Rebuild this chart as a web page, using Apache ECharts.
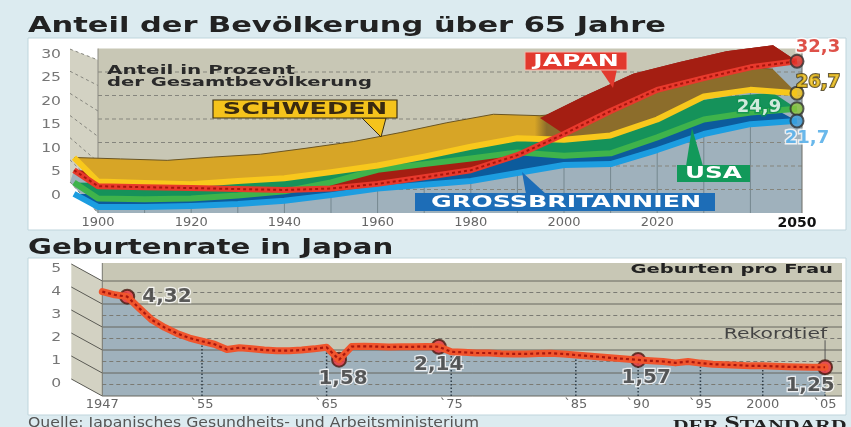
<!DOCTYPE html>
<html><head><meta charset="utf-8">
<script src="https://cdn.jsdelivr.net/npm/echarts@6/dist/echarts.min.js"></script>
<style>html,body{margin:0;padding:0;background:#dcebf0}#c{width:851px;height:427px}</style>
</head><body><div id="c"></div>
<script>
// ---------- data: top chart (share of population 65+, %) ----------
const years  = [1900,1910,1920,1930,1940,1950,1960,1970,1980,1990,2000,2010,2020,2030,2040,2050];
const japan  = [5.7,5.5,5.3,5.1,4.9,5.2,6.2,7.6,9.1,12.3,16.8,21.7,26.2,28.7,31.0,32.3];
const sweden = [6.7,6.4,6.1,6.8,7.4,8.7,10.1,12.0,14.1,15.9,15.6,16.5,19.9,24.8,26.2,25.5];
const usa    = [3.1,2.9,3.1,3.7,4.6,6.5,9.2,10.4,11.6,12.9,12.2,12.7,16.1,19.9,21.4,22.2];
const gb     = [1.3,1.3,1.5,1.9,2.6,3.8,5.2,6.0,6.8,8.5,10.2,10.4,13.4,16.8,18.9,19.6];
const endLabels = ['32,3','26,7','24,9','21,7'];
const xLabelsTop = [1900,1920,1940,1960,1980,2000,2020,2050];
const yTicksTop = [0,5,10,15,20,25,30];

// ---------- data: bottom chart (births per woman, Japan) ----------
const birthYears = [1947,1948,1949,1950,1951,1952,1953,1954,1955,1956,1957,1958,1959,1960,1961,1962,1963,1964,1965,1966,1967,1968,1969,1970,1971,1972,1973,1974,1975,1976,1977,1978,1979,1980,1981,1982,1983,1984,1985,1986,1987,1988,1989,1990,1991,1992,1993,1994,1995,1996,1997,1998,1999,2000,2001,2002,2003,2004,2005];
const birthRate  = [4.54,4.40,4.32,3.80,3.30,2.98,2.72,2.52,2.38,2.25,2.02,2.10,2.05,2.00,1.97,1.97,2.00,2.05,2.12,1.58,2.15,2.16,2.15,2.13,2.14,2.14,2.15,2.14,1.92,1.90,1.87,1.87,1.84,1.83,1.83,1.85,1.86,1.83,1.78,1.74,1.70,1.65,1.61,1.57,1.53,1.50,1.44,1.50,1.43,1.38,1.36,1.34,1.31,1.31,1.29,1.27,1.26,1.25,1.25];
const birthHighlights = [1949,1966,1974,1990,2005];
const birthTickYears = [1947,1955,1965,1975,1985,1990,1995,2000,2005];
const birthTickText  = ['1947','`55','`65','`75','`85','`90','`95','2000','`05'];
const yTicksBottom = [0,1,2,3,4,5];

// ---------- style ----------
const DEPTH = {japan:[-24,-16], sweden:[-24,-24], usa:[-24,-16], gb:[-24,-13]};
const FONT = '"DejaVu Sans"';

function ribbon(vals, d, fill, stripColor, outline, fromIdx){
  return function(params, api){
    const P=[], B=[];
    for(let i=fromIdx;i<years.length;i++){
      const p=api.coord([years[i], vals[i]]);
      P.push(p); B.push([p[0]+d[0], p[1]+d[1]]);
    }
    const f = typeof fill==='function' ? fill(api) : fill;
    const ch=[{type:'polygon',shape:{points:P.concat(B.slice().reverse())},style:{fill:f}}];
    if(outline) ch.push({type:'polyline',shape:{points:B},style:{stroke:outline,lineWidth:1,fill:'none'}});
    if(stripColor) ch.push({type:'polyline',shape:{points:[B[0]].concat(P)},style:{stroke:stripColor,lineWidth:6,fill:'none',lineJoin:'round'}});
    return {type:'group',children:ch};
  };
}

let cross = 0;
for(let i=0;i<years.length;i++){ if(japan[i]>sweden[i]){cross=i;break;} }

function swedenFill(api){
  const xa=api.coord([years[cross-1],0])[0], xb=api.coord([years[cross],0])[0];
  const m=(xa+xb)/2;
  return new echarts.graphic.LinearGradient(m-6,0,m+6,0,[{offset:0,color:'#d7a526'},{offset:1,color:'#8c6d2b'}],true);
}

function japanStrip(params, api){
  const d=DEPTH.japan;
  const P=years.map((y,i)=>api.coord([y,japan[i]]));
  const pts=[[P[0][0]+d[0],P[0][1]+d[1]]].concat(P);
  return {type:'group',children:[
    {type:'polyline',shape:{points:pts},style:{stroke:'#e8392c',lineWidth:6,fill:'none',lineJoin:'round'}},
    {type:'polyline',shape:{points:pts},style:{stroke:'#a8150d',lineWidth:2,fill:'none',lineDash:[3,3]}}
  ]};
}

function wallTop(params, api){
  const cs=params.coordSys;
  const x0=cs.x, x1=cs.x+cs.width, yT=cs.y, yB=cs.y+cs.height;
  const ch=[];
  ch.push({type:'polygon',shape:{points:[[x0-28,yT+0.5],[x0,yT+11.5],[x0,yB],[x0-28,yB-31]]},style:{fill:'#d3d2c3'}});
  ch.push({type:'rect',shape:{x:x0,y:yT,width:x1-x0+5,height:yB-yT},style:{fill:'#c8c7b5'}});
  const d=DEPTH.japan;
  const P=years.map((y,i)=>api.coord([y,japan[i]]));
  const B=P.map(p=>[p[0]+d[0],p[1]+d[1]]);
  const last=P[P.length-1];
  ch.push({type:'polygon',shape:{points:B.concat([last,[x1+5,last[1]],[x1+5,yB],[x0,yB],[x0-28,yB-31]])},style:{fill:'#9fb1bc'}});
  for(let i=1;i<years.length-1;i++){
    ch.push({type:'line',shape:{x1:P[i][0],y1:yB,x2:P[i][0],y2:P[i][1]+d[1]},style:{stroke:'#75878f',lineWidth:1}});
  }
  yTicksTop.forEach(v=>{
    const gy=api.coord([years[0],v])[1];
    if(v>0) ch.push({type:'line',shape:{x1:x0,y1:gy,x2:x1+5,y2:gy},style:{stroke:'#85857d',lineWidth:1,lineDash:[4,3]}});
    ch.push({type:'line',shape:{x1:x0-28,y1:gy-31+0.27*v,x2:x0,y2:gy-0.4*v},style:{stroke:'#85857d',lineWidth:1,lineDash:[3,3]}});
    // axis tick label on the front edge of the side wall
    ch.push({type:'text',x:x0-37,y:gy-17.5,scaleX:1.2,style:{text:String(v),font:'13px '+FONT,fill:'#767676',align:'right',verticalAlign:'middle'}});
  });
  ch.push({type:'line',shape:{x1:x0,y1:yT,x2:x0,y2:yB},style:{stroke:'#8a8a82',lineWidth:1}});
  ch.push({type:'line',shape:{x1:x1+5,y1:yT,x2:x1+5,y2:yB},style:{stroke:'#6c6c66',lineWidth:1}});
  return {type:'group',children:ch};
}

function wallBottom(params, api){
  const cs=params.coordSys;
  const x0=cs.x, x1=cs.x+cs.width, yT=cs.y, yB=cs.y+cs.height;
  const ch=[];
  ch.push({type:'polygon',shape:{points:[[x0-31,yT-17],[x0,yT],[x0,yB],[x0-31,yB-17]]},style:{fill:'#d3d2c3'}});
  ch.push({type:'rect',shape:{x:x0,y:yT-18,width:x1-x0,height:yB-yT+18},style:{fill:'#c8c7b5'}});
  const P=birthYears.map((y,i)=>api.coord([y,birthRate[i]]));
  const last=P[P.length-1];
  ch.push({type:'polygon',shape:{points:P.concat([[last[0],yB],[P[0][0],yB]])},style:{fill:'#9fb1bc'}});
  for(let k=0;k<yTicksBottom.length-1;k++){
    const gy=api.coord([birthYears[0],yTicksBottom[k]+0.5])[1];
    ch.push({type:'line',shape:{x1:x0,y1:gy,x2:x1,y2:gy},style:{stroke:'#7a7a73',lineWidth:1,lineDash:[4,3]}});
  }
  yTicksBottom.forEach(v=>{
    const gy=api.coord([birthYears[0],v])[1];
    ch.push({type:'line',shape:{x1:x0,y1:gy,x2:x1,y2:gy},style:{stroke:'#66665f',lineWidth:1}});
    ch.push({type:'line',shape:{x1:x0-31,y1:gy-17,x2:x0,y2:gy},style:{stroke:'#5a5a54',lineWidth:1}});
    ch.push({type:'text',x:x0-41,y:gy-12,scaleX:1.2,style:{text:String(v),font:'13px '+FONT,fill:'#767676',align:'right',verticalAlign:'middle'}});
  });
  birthTickYears.slice(1).forEach(y=>{
    const idx=birthYears.indexOf(y);
    const p=api.coord([y,birthRate[idx]]);
    ch.push({type:'line',shape:{x1:p[0],y1:yB,x2:p[0],y2:p[1]+3},style:{stroke:'#2f3d47',lineWidth:1.5,lineDash:[1.5,2]}});
  });
  ch.push({type:'line',shape:{x1:x0,y1:yT-18,x2:x0,y2:yB},style:{stroke:'#77776f',lineWidth:1}});
  // Rekordtief annotation anchored on the last point
  ch.push({type:'line',shape:{x1:last[0],y1:last[1]-7,x2:last[0],y2:last[1]-27},style:{stroke:'#555',lineWidth:1}});
  ch.push({type:'text',x:last[0]+2,y:last[1]-33,scaleX:1.45,style:{text:'Rekordtief',font:'14px '+FONT,fill:'#444',align:'right',verticalAlign:'middle'}});
  return {type:'group',children:ch};
}

const endColors = [
  {fill:'#e3332a', text:'#d6261c', border:'#ffffff', bw:3, off:[21,-14]},
  {fill:'#f4c41a', text:'#f1c21a', border:'#3d2f0a', bw:2, off:[21,-11]},
  {fill:'#8cc63e', text:'#ffffff', border:'#0e9150', bw:3, off:[-38,-1]},
  {fill:'#3f9fdc', text:'#45a6e6', border:'#ffffff', bw:3, off:[10,17]}
];
const endSeries=[japan,sweden,usa,gb];
const endData = endSeries.map((arr,k)=>({
  value:[years[years.length-1], arr[arr.length-1]],
  itemStyle:{color:endColors[k].fill, borderColor:'#333', borderWidth:2},
  label:{show:true, position:'inside', offset:endColors[k].off, formatter:()=>endLabels[k],
    color:endColors[k].text, textBorderColor:endColors[k].border, textBorderWidth:endColors[k].bw,
    fontFamily:FONT, fontWeight:'bold', fontSize:18}
}));

const hlPos = {1949:{position:'right',distance:7,offset:[0,0]},1966:{position:'bottom',distance:1,offset:[4,0]},
  1974:{position:'bottom',distance:0,offset:[0,0]},1990:{position:'bottom',distance:0,offset:[8,0]},2005:{position:'bottom',distance:1,offset:[-15,0]}};
const hlData = birthHighlights.map(y=>{
  const v=birthRate[birthYears.indexOf(y)];
  return {value:[y,v], label:Object.assign({show:true},hlPos[y])};
});

const option = {
  animation:false,
  backgroundColor:'#dcebf0',
  grid:[{left:98,right:54,top:48.5,bottom:214},{left:102.3,right:9,top:281,bottom:31}],
  xAxis:[
    {type:'value',gridIndex:0,min:years[0],max:years[years.length-1],interval:10,
     axisLine:{show:false},axisTick:{show:false},splitLine:{show:false},
     axisLabel:{margin:3,color:'#666',fontSize:13,fontFamily:FONT,showMinLabel:true,showMaxLabel:true,
       formatter:v=>xLabelsTop.indexOf(v)<0?'':(v===xLabelsTop[xLabelsTop.length-1]?'{b|'+v+'}':String(v)),
       rich:{b:{fontWeight:'bold',color:'#111',fontSize:14,fontFamily:FONT}}}},
    {type:'value',gridIndex:1,min:birthYears[0],max:2006.36,interval:1,
     axisLine:{show:false},axisTick:{show:false},splitLine:{show:false},
     axisLabel:{margin:2,color:'#666',fontSize:13,fontFamily:FONT,showMinLabel:true,
       formatter:v=>{const i=birthTickYears.indexOf(v);return i<0?'':birthTickText[i];}}}
  ],
  yAxis:[
    {type:'value',gridIndex:0,min:0,max:35,interval:5,axisLine:{show:false},axisTick:{show:false},splitLine:{show:false},axisLabel:{show:false}},
    {type:'value',gridIndex:1,min:0,max:5,interval:1,axisLine:{show:false},axisTick:{show:false},splitLine:{show:false},axisLabel:{show:false}}
  ],
  series:[
    {type:'custom',xAxisIndex:0,yAxisIndex:0,clip:false,silent:true,data:[[years[0],0]],renderItem:wallTop},
    {type:'custom',xAxisIndex:0,yAxisIndex:0,clip:false,silent:true,data:[[years[0],0]],renderItem:ribbon(gb,DEPTH.gb,'#0c5b9c','#1c9de0',null,0)},
    {type:'custom',xAxisIndex:0,yAxisIndex:0,clip:false,silent:true,data:[[years[0],0]],renderItem:ribbon(japan,DEPTH.japan,'#a41e12',null,null,0)},
    {type:'custom',xAxisIndex:0,yAxisIndex:0,clip:false,silent:true,data:[[years[0],0]],renderItem:ribbon(usa,DEPTH.usa,'#15925a','#3fb34b',null,0)},
    {type:'custom',xAxisIndex:0,yAxisIndex:0,clip:false,silent:true,data:[[years[0],0]],renderItem:ribbon(sweden,DEPTH.sweden,swedenFill,'#f8c81c','#6b5522',0)},
    {type:'custom',xAxisIndex:0,yAxisIndex:0,clip:false,silent:true,data:[[years[0],0]],renderItem:ribbon(japan,DEPTH.japan,'#a41e12',null,null,cross)},
    {type:'custom',xAxisIndex:0,yAxisIndex:0,clip:false,silent:true,data:[[years[0],0]],renderItem:japanStrip},
    {type:'scatter',xAxisIndex:0,yAxisIndex:0,symbolSize:13,silent:true,data:endData},

    {type:'custom',xAxisIndex:1,yAxisIndex:1,clip:false,silent:true,data:[[birthYears[0],0]],renderItem:wallBottom},
    {type:'line',xAxisIndex:1,yAxisIndex:1,silent:true,showSymbol:false,data:birthYears.map((y,i)=>[y,birthRate[i]]),
     lineStyle:{width:7,color:'#f0552d',cap:'round',join:'round'}},
    {type:'line',xAxisIndex:1,yAxisIndex:1,silent:true,showSymbol:false,data:birthYears.map((y,i)=>[y,birthRate[i]]),
     lineStyle:{width:2.2,color:'#a8170e',type:[3,3]}},
    {type:'scatter',xAxisIndex:1,yAxisIndex:1,silent:true,symbolSize:14,
     itemStyle:{color:'#e8323a',borderColor:'#4a1a12',borderWidth:2},
     label:{formatter:p=>p.value[1].toFixed(2).replace('.',','),color:'#363636',fontFamily:FONT,fontWeight:'bold',fontSize:20,
       textBorderColor:'#ffffff',textBorderWidth:2.5},
     data:hlData}
  ],
  graphic:{elements:[
    {type:'rect',z:-10,shape:{x:28,y:38,width:818,height:192},style:{fill:'#ffffff',stroke:'#bfd5dc',lineWidth:1}},
    {type:'rect',z:-10,shape:{x:28,y:258,width:818,height:157},style:{fill:'#ffffff',stroke:'#bfd5dc',lineWidth:1}},
    {type:'text',z:10,x:28,y:26.5,scaleX:1.45,style:{text:'Anteil der Bevölkerung über 65 Jahre',font:'bold 21px '+FONT,fill:'#222',align:'left',verticalAlign:'middle'}},
    {type:'text',z:10,x:28,y:249,scaleX:1.39,style:{text:'Geburtenrate in Japan',font:'bold 21px '+FONT,fill:'#222',align:'left',verticalAlign:'middle'}},
    {type:'text',z:10,x:107,y:71,scaleX:1.66,style:{text:'Anteil in Prozent',font:'bold 12px '+FONT,fill:'#2a2a2a',align:'left',verticalAlign:'middle'}},
    {type:'text',z:10,x:107,y:83,scaleX:1.63,style:{text:'der Gesamtbevölkerung',font:'bold 12px '+FONT,fill:'#2a2a2a',align:'left',verticalAlign:'middle'}},
    {type:'text',z:10,x:833,y:270,scaleX:1.5,style:{text:'Geburten pro Frau',font:'bold 13px '+FONT,fill:'#222',align:'right',verticalAlign:'middle'}},
    {type:'text',z:10,x:28,y:423,scaleX:1.12,style:{text:'Quelle: Japanisches Gesundheits- und Arbeitsministerium',font:'14px '+FONT,fill:'#555',align:'left',verticalAlign:'middle'}},
    {type:'text',z:10,x:673,y:424,scaleX:1.55,style:{text:'{a|DER }{b|S}{a|TANDARD}',align:'left',verticalAlign:'middle',
      rich:{a:{font:'bold 14px "Liberation Serif"',fill:'#222',verticalAlign:'bottom'},b:{font:'bold 18px "Liberation Serif"',fill:'#222',verticalAlign:'bottom'}}}},
    // callouts
    {type:'polygon',z:10,shape:{points:[[362,118],[386,118],[381,137]]},style:{fill:'#f5c31c',stroke:'#3b2f14',lineWidth:1}},
    {type:'rect',z:10,shape:{x:213,y:100,width:184,height:18},style:{fill:'#f5c31c',stroke:'#3b2f14',lineWidth:1.2}},
    {type:'text',z:11,x:305,y:109.5,scaleX:1.6,style:{text:'SCHWEDEN',font:'bold 16px '+FONT,fill:'#3a2a10',align:'center',verticalAlign:'middle'}},
    {type:'polygon',z:10,shape:{points:[[600,69],[617,69],[613,88]]},style:{fill:'#e2392e'}},
    {type:'rect',z:10,shape:{x:525,y:52,width:102,height:18},style:{fill:'#e2392e',stroke:'#f2b9ad',lineWidth:1}},
    {type:'text',z:11,x:576,y:61.5,scaleX:1.57,style:{text:'JAPAN',font:'bold 16px '+FONT,fill:'#ffffff',align:'center',verticalAlign:'middle'}},
    {type:'polygon',z:10,shape:{points:[[686,166],[703,166],[692,128]]},style:{fill:'#12995a'}},
    {type:'rect',z:10,shape:{x:677,y:165,width:73,height:17},style:{fill:'#12995a'}},
    {type:'text',z:11,x:713.5,y:174,scaleX:1.54,style:{text:'USA',font:'bold 16px '+FONT,fill:'#ffffff',align:'center',verticalAlign:'middle'}},
    {type:'polygon',z:10,shape:{points:[[522,172],[526,194],[546,194]]},style:{fill:'#1d6db7'}},
    {type:'rect',z:10,shape:{x:415,y:193,width:300,height:18},style:{fill:'#1d6db7'}},
    {type:'text',z:11,x:566,y:202.5,scaleX:1.58,style:{text:'GROSSBRITANNIEN',font:'bold 16px '+FONT,fill:'#ffffff',align:'center',verticalAlign:'middle'}}
  ]}
};
const chart = echarts.init(document.getElementById('c'),null,{renderer:'canvas',width:851,height:427});
chart.setOption(option);
</script></body></html>
